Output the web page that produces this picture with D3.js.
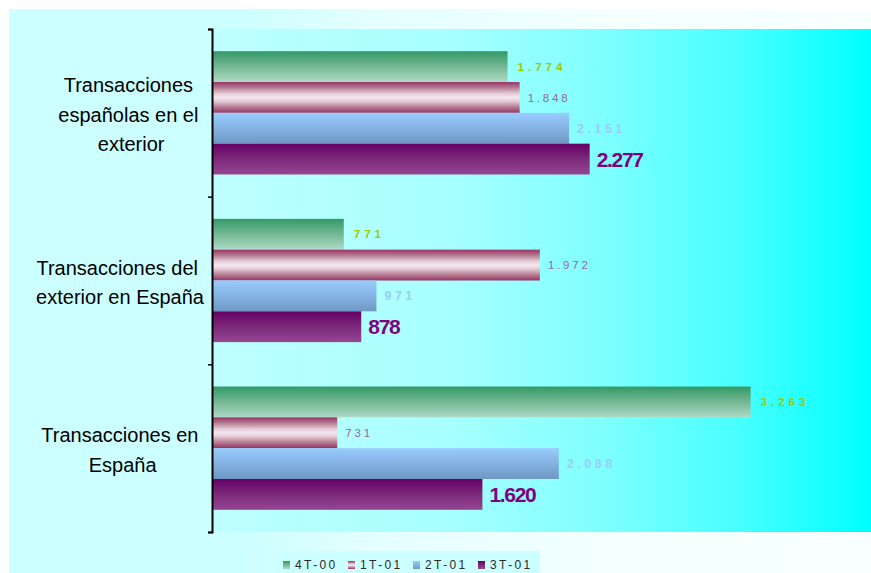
<!DOCTYPE html>
<html>
<head>
<meta charset="utf-8">
<script src="https://cdn.jsdelivr.net/npm/d3@7/dist/d3.min.js"></script>
<style>
  html, body { margin: 0; padding: 0; background: #fff; }
  svg { display: block; font-family: "Liberation Sans", Arial, sans-serif; }
</style>
</head>
<body>
<svg id="chart" width="871" height="573"></svg>
<script>
// ---- data ----
const categories = [
  "Transacciones españolas en el exterior",
  "Transacciones del exterior en España",
  "Transacciones en España"
];
const categoryLines = [
  ["Transacciones", "españolas en el", "exterior"],
  ["Transacciones del", "exterior en España"],
  ["Transacciones en", "España"]
];
const series = ["4T-00", "1T-01", "2T-01", "3T-01"];
const values4T00 = [1774, 771, 3263];
const values1T01 = [1848, 1972, 731];
const values2T01 = [2151, 971, 2088];
const values3T01 = [2277, 878, 1620];
const seriesValues = [values4T00, values1T01, values2T01, values3T01];
const xDomain = [-30, 4000];

// ---- styles ----
const gradStops = [
  [[0, "#339966"], [0.5, "#74B894"], [1, "#AEDAC5"]],
  [[0, "#993366"], [0.18, "#B37A90"], [0.38, "#E6CCD8"], [0.5, "#F3E8EF"], [0.62, "#E6CCD8"], [0.82, "#B37A90"], [1, "#993366"]],
  [[0, "#99CCFF"], [0.5, "#84B2E2"], [1, "#6E98C4"]],
  [[0, "#660066"], [0.5, "#7C2A7A"], [1, "#954693"]]
];
const labelStyle = [
  { fill: "#99CC00", size: 11.5, weight: "bold", ls: 4, dx: 10 },
  { fill: "#996699", size: 11.5, weight: "normal", ls: 2.8, dx: 8 },
  { fill: "#99CCFF", size: 12.5, weight: "bold", ls: 3.5, dx: 8 },
  { fill: "#800080", size: 21, weight: "bold", ls: -1.3, dx: 7 }
];

const W = 871, H = 573;
const plot = { left: 213, right: 871, top: 29, bottom: 532 };
const svg = d3.select("#chart");
const defs = svg.append("defs");
const fmt = d3.formatLocale({ decimal: ",", thousands: ".", grouping: [3], currency: ["", "€"] }).format(",d");

// outer background gradient
const og = defs.append("linearGradient").attr("id", "outerBg").attr("x1", 0).attr("x2", 1).attr("y1", 0).attr("y2", 0);
[[0, "#CCFFFF"], [0.27, "#CCFFFF"], [0.42, "#E4FFFF"], [0.7, "#F4FFFF"], [1, "#F8FFFF"]].forEach(s =>
  og.append("stop").attr("offset", s[0]).attr("stop-color", s[1]));
// plot background gradient
const pg = defs.append("linearGradient").attr("id", "plotBg").attr("x1", 0).attr("x2", 1).attr("y1", 0).attr("y2", 0);
[[0, "#BFFFFF"], [0.36, "#A8FFFF"], [0.59, "#80FFFF"], [0.8, "#48FFFF"], [1, "#00FFFF"]].forEach(s =>
  pg.append("stop").attr("offset", s[0]).attr("stop-color", s[1]));
// bar gradients
gradStops.forEach((stops, i) => {
  const g = defs.append("linearGradient").attr("id", "bar" + i).attr("x1", 0).attr("x2", 0).attr("y1", 0).attr("y2", 1);
  stops.forEach(s => g.append("stop").attr("offset", s[0]).attr("stop-color", s[1]));
});

svg.append("rect").attr("x", 9).attr("y", 9).attr("width", W - 9).attr("height", H - 9).attr("fill", "url(#outerBg)");
svg.append("rect").attr("x", plot.left).attr("y", plot.top)
  .attr("width", plot.right - plot.left).attr("height", plot.bottom - plot.top).attr("fill", "url(#plotBg)");

// scales
const x = d3.scaleLinear().domain(xDomain).range([plot.left, plot.right]);
const y0 = d3.scaleBand().domain(categories).range([plot.top, plot.bottom]).paddingInner(0).paddingOuter(0);
const y1 = d3.scaleBand().domain(series).range([0, y0.bandwidth()]).paddingInner(0).paddingOuter(0.72);

// bars
const groups = svg.append("g").selectAll("g").data(categories).join("g")
  .attr("transform", d => `translate(0,${y0(d)})`);
groups.each(function (cat, ci) {
  const g = d3.select(this);
  const rows = series.map((s, si) => ({ s, si, v: seriesValues[si][ci] }));
  g.selectAll("rect").data(rows).join("rect")
    .attr("x", x(xDomain[0]))
    .attr("y", d => y1(d.s))
    .attr("width", d => x(d.v) - x(xDomain[0]))
    .attr("height", y1.bandwidth())
    .attr("fill", d => `url(#bar${d.si})`);
  g.selectAll("text").data(rows).join("text")
    .attr("x", d => x(d.v) + labelStyle[d.si].dx)
    .attr("y", d => y1(d.s) + y1.bandwidth() / 2)
    .attr("dy", "0.36em")
    .attr("fill", d => labelStyle[d.si].fill)
    .attr("font-size", d => labelStyle[d.si].size)
    .attr("font-weight", d => labelStyle[d.si].weight)
    .attr("letter-spacing", d => labelStyle[d.si].ls)
    .text(d => fmt(d.v));
});

// axis (category axis with ticks between categories)
const axisScale = d3.scaleLinear().domain([0, categories.length]).range([plot.top, plot.bottom]);
const axis = d3.axisLeft(axisScale).tickValues(d3.range(categories.length + 1))
  .tickSize(4).tickSizeOuter(4).tickFormat("");
const ax = svg.append("g").attr("transform", `translate(${plot.left - 1},0)`).call(axis);
ax.select(".domain").attr("stroke", "#000").attr("stroke-width", 2);
ax.selectAll(".tick line").attr("stroke", "#000").attr("stroke-width", 1.5);

// category labels
const labG = svg.append("g");
categories.forEach((cat, ci) => {
  const lines = categoryLines[ci];
  const cy = y0(cat) + y0.bandwidth() / 2;
  const t = labG.append("text").attr("font-size", 20).attr("fill", "#000").attr("text-anchor", "middle")
    .attr("xml:space", "preserve");
  lines.forEach((ln, li) => {
    const txt = li < lines.length - 1 ? ln + " " : ln;
    t.append("tspan").attr("x", 0).attr("y", cy + 9 + (li - (lines.length - 1) / 2) * 29.5).text(txt);
  });
  let maxW = 0;
  t.selectAll("tspan").each(function () { maxW = Math.max(maxW, this.getComputedTextLength()); });
  const center = 204 - maxW / 2;
  t.selectAll("tspan").attr("x", center);
});

// legend
const leg = svg.append("g");
leg.append("rect").attr("x", 276).attr("y", 551).attr("width", 264).attr("height", 22).attr("fill", "#CCFFFF");
const legItems = leg.selectAll("g").data(series).join("g")
  .attr("transform", (d, i) => `translate(${283 + i * 65},0)`);
legItems.append("rect").attr("x", 0).attr("y", 561).attr("width", 7).attr("height", 8)
  .attr("fill", (d, i) => `url(#bar${i})`);
legItems.append("text").attr("x", 12).attr("y", 569).attr("font-size", 12)
  .attr("letter-spacing", 2.4).attr("fill", "#2a2a2a").text(d => d);
</script>
</body>
</html>
